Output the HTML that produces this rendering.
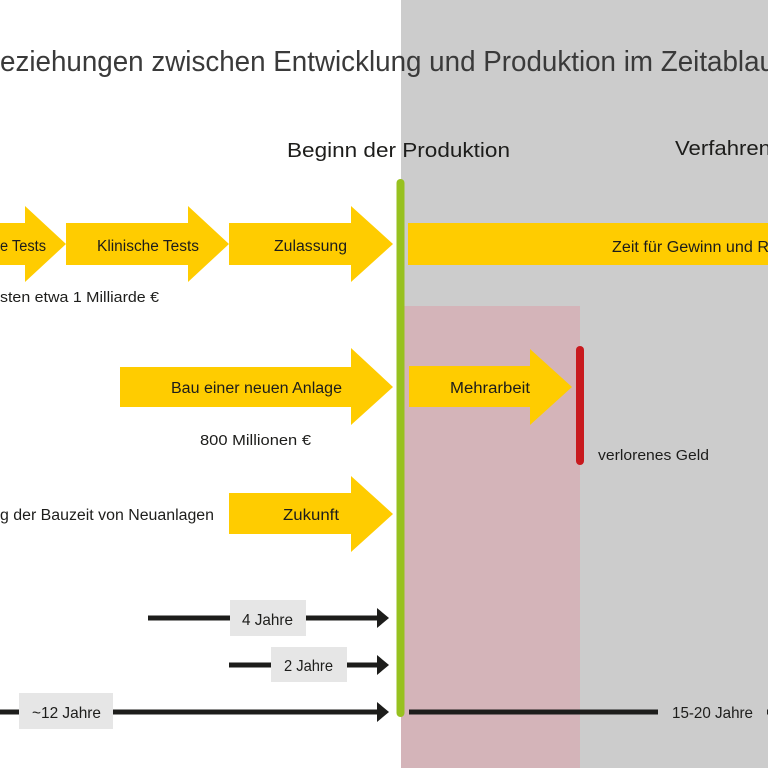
<!DOCTYPE html>
<html><head><meta charset="utf-8"><style>
html,body{margin:0;padding:0;background:#fff;}
svg{display:block;}
text{font-family:"Liberation Sans",sans-serif;fill:#1d1d1b;}
</style></head><body>
<svg width="768" height="768" viewBox="0 0 768 768" xmlns="http://www.w3.org/2000/svg">
<rect x="0" y="0" width="768" height="768" fill="#ffffff"/>
<rect x="401" y="0" width="367" height="768" fill="#cccccc"/>
<rect x="401" y="306" width="179" height="462" fill="#d4b4b9"/>

<!-- title -->
<text x="0" y="71" font-size="29" textLength="775" lengthAdjust="spacingAndGlyphs" style="fill:#3a3a3a">eziehungen zwischen Entwicklung und Produktion im Zeitablau</text>
<text x="287" y="157" font-size="20" textLength="223" lengthAdjust="spacingAndGlyphs">Beginn der Produktion</text>
<text x="675" y="155" font-size="20" textLength="96" lengthAdjust="spacingAndGlyphs">Verfahren</text>

<!-- row 1 arrows -->
<polygon fill="#ffcc00" points="-10,223 25,223 25,206 66,244 25,282 25,265 -10,265"/>
<polygon fill="#ffcc00" points="66,223 188,223 188,206 229,244 188,282 188,265 66,265"/>
<polygon fill="#ffcc00" points="229,223 351,223 351,206 393,244 351,282 351,265 229,265"/>
<rect x="408" y="223" width="360" height="42" fill="#ffcc00"/>
<text x="0" y="251" font-size="15.5" textLength="46" lengthAdjust="spacingAndGlyphs">e Tests</text>
<text x="97" y="251" font-size="15.5" textLength="102" lengthAdjust="spacingAndGlyphs">Klinische Tests</text>
<text x="274" y="251" font-size="15.5" textLength="73" lengthAdjust="spacingAndGlyphs">Zulassung</text>
<text x="612" y="252" font-size="15.5" textLength="157" lengthAdjust="spacingAndGlyphs">Zeit für Gewinn und R</text>
<text x="0" y="302" font-size="14.5" textLength="159" lengthAdjust="spacingAndGlyphs">sten etwa 1 Milliarde €</text>

<!-- row 2 -->
<polygon fill="#ffcc00" points="120,367 351,367 351,348 393,387 351,425 351,407 120,407"/>
<polygon fill="#ffcc00" points="409,366 530,366 530,349 572,387 530,425 530,407 409,407"/>
<text x="171" y="393" font-size="15.5" textLength="171" lengthAdjust="spacingAndGlyphs">Bau einer neuen Anlage</text>
<text x="450" y="393" font-size="15.5" textLength="80" lengthAdjust="spacingAndGlyphs">Mehrarbeit</text>
<text x="200" y="445" font-size="15" textLength="111" lengthAdjust="spacingAndGlyphs">800 Millionen €</text>
<text x="598" y="460" font-size="15" textLength="111" lengthAdjust="spacingAndGlyphs">verlorenes Geld</text>

<!-- red line -->
<line x1="580" y1="350" x2="580" y2="461" stroke="#c8191e" stroke-width="8" stroke-linecap="round"/>

<!-- row 3 -->
<polygon fill="#ffcc00" points="229,493 351,493 351,476 393,514 351,552 351,534 229,534"/>
<text x="0" y="520" font-size="15.5" textLength="214" lengthAdjust="spacingAndGlyphs">g der Bauzeit von Neuanlagen</text>
<text x="283" y="520" font-size="15.5" textLength="56" lengthAdjust="spacingAndGlyphs">Zukunft</text>

<!-- timelines -->
<g stroke="#1d1d1b" stroke-width="5">
<line x1="148" y1="618" x2="380" y2="618"/>
<line x1="229" y1="665" x2="380" y2="665"/>
<line x1="0" y1="712" x2="380" y2="712"/>
<line x1="409" y1="712" x2="658" y2="712"/>
<line x1="767" y1="712" x2="770" y2="712"/>
</g>
<g fill="#1d1d1b">
<polygon points="377,608 389,618 377,628"/>
<polygon points="377,655 389,665 377,675"/>
<polygon points="377,702 389,712 377,722"/>
</g>
<rect x="230" y="600" width="76" height="36" fill="#e6e6e6"/>
<rect x="271" y="647" width="76" height="35" fill="#e6e6e6"/>
<rect x="19" y="693" width="94" height="36" fill="#e6e6e6"/>
<text x="242" y="625" font-size="16" textLength="51" lengthAdjust="spacingAndGlyphs">4 Jahre</text>
<text x="284" y="671" font-size="16" textLength="49" lengthAdjust="spacingAndGlyphs">2 Jahre</text>
<text x="32" y="718" font-size="16" textLength="69" lengthAdjust="spacingAndGlyphs">~12 Jahre</text>
<text x="672" y="718" font-size="16" textLength="81" lengthAdjust="spacingAndGlyphs">15-20 Jahre</text>

<!-- green line -->
<line x1="400.5" y1="183" x2="400.5" y2="713" stroke="#97c11f" stroke-width="8" stroke-linecap="round"/>
</svg>
</body></html>
